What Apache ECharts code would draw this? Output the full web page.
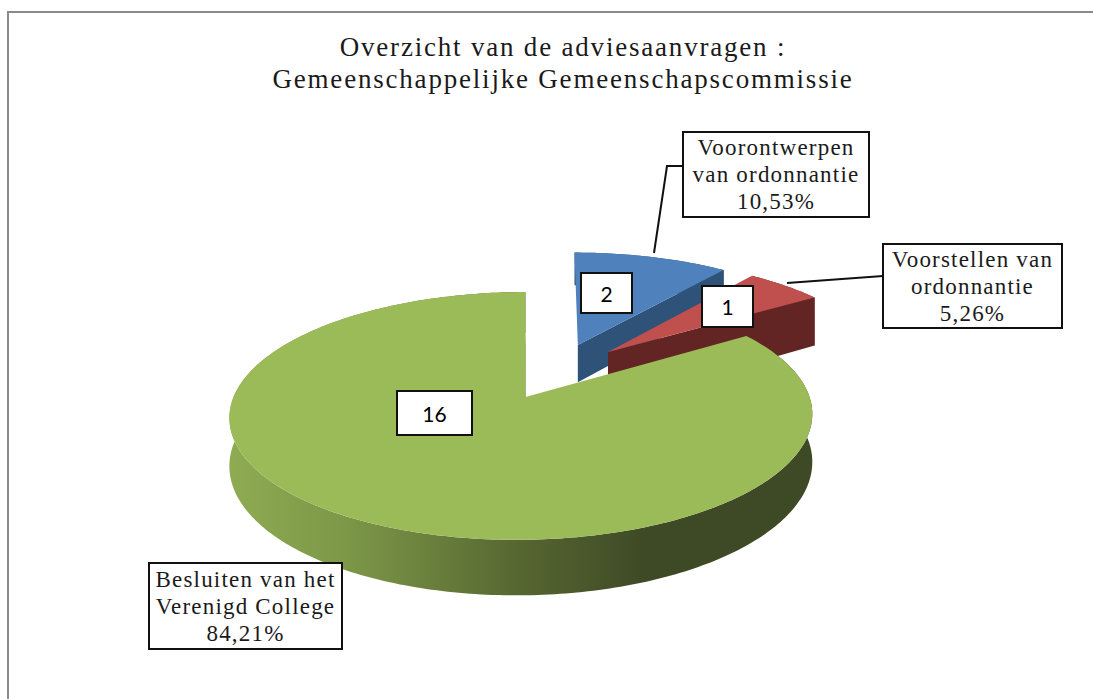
<!DOCTYPE html>
<html>
<head>
<meta charset="utf-8">
<title>Overzicht van de adviesaanvragen</title>
<script src="https://cdn.jsdelivr.net/npm/echarts@6/dist/echarts.min.js"></script>
<style>
    html, body { margin: 0; padding: 0; background: #fff; }
    #chart { width: 1093px; height: 699px; }
    /* the original serif runs wide, the installed one does not */
    #chart text[style*="Liberation"] { letter-spacing: 1.2px; }
    #chart text[style*="27px"] { letter-spacing: 1.8px; }
</style>
</head>
<body>
<div id="chart"></div>
<script>
    // data
    let chartTitle = 'Overzicht van de adviesaanvragen :\nGemeenschappelijke Gemeenschapscommissie'
    let sliceNames = ['Voorontwerpen\nvan ordonnantie', 'Voorstellen van\nordonnantie', 'Besluiten van het\nVerenigd College']
    let sliceValues = [2, 1, 16]

    // look of the slices
    let topColors = ['#4f81bd', '#c0504d', '#9bbb59']
    let wallColors = ['#2f5278', '#632523', '#5a6b34']
    let pull = [[0.19, 0.46], [0.3, 0.394], [-0.012, 0]]
    let wallDepth = [40, 55, 47]
    let apexNudge = [0, 0, 4]

    // the tilted disc, with a bit of perspective
    let view = { cx: 525, cy: 397, a: 288, b: 121, k: 0.153, skew: 4 }

    let total = sliceValues.reduce((s, v) => s + v, 0)

    function project(x, y, drop) {
        let w = 1 + view.k * y
        return [view.cx + (view.a * x + view.skew * y) / w, view.cy - (view.b * y - drop) / w]
    }

    function arcPoints(idx, start, end, drop) {
        let pts = []
        let steps = Math.max(8, Math.round((end - start) * 60))
        for (let i = 0; i <= steps; i++) {
            let t = start + (end - start) * i / steps
            pts.push(project(pull[idx][0] + Math.sin(t), pull[idx][1] + Math.cos(t), drop))
        }
        return pts
    }

    function renderSlice(params, api) {
        let idx = params.dataIndex
        let before = sliceValues.slice(0, idx).reduce((s, v) => s + v, 0)
        let start = before / total * Math.PI * 2
        let end = (before + api.value(0)) / total * Math.PI * 2

        let apexTop = project(pull[idx][0], pull[idx][1], 0)
        let apexLow = project(pull[idx][0], pull[idx][1], wallDepth[idx])
        apexTop[0] += apexNudge[idx]
        let arcTop = arcPoints(idx, start, end, 0)
        let arcLow = arcPoints(idx, start, end, wallDepth[idx])

        let wallFill = wallColors[idx]
        if (idx === 2) {
            // only the big slice has a lit rim
            wallFill = new echarts.graphic.LinearGradient(228, 0, 812, 0, [
                { offset: 0, color: '#8fab52' },
                { offset: 0.2, color: '#7d9848' },
                { offset: 0.5, color: '#566631' },
                { offset: 0.72, color: '#3e4925' },
                { offset: 1, color: '#3e4925' }
            ], true)
        }

        return {
            type: 'group',
            children: [
                {
                    type: 'polygon',
                    shape: { points: [apexTop, arcTop[arcTop.length - 1], arcLow[arcLow.length - 1], apexLow] },
                    style: { fill: wallColors[idx] }
                },
                {
                    type: 'polygon',
                    shape: { points: arcTop.concat(arcLow.slice().reverse()) },
                    style: { fill: wallFill }
                },
                {
                    type: 'polygon',
                    shape: { points: [apexTop].concat(arcTop) },
                    style: { fill: topColors[idx] }
                }
            ]
        }
    }

    function percentText(v) {
        return (v / total * 100).toFixed(2).replace('.', ',') + '%'
    }

    // boxes around the texts
    let nameBoxes = [[683, 132, 186, 85], [883, 244, 179, 84], [149, 563, 193, 86]]
    let valueBoxes = [[581, 273, 51, 40], [702, 286, 51, 41], [397, 391, 75, 44]]
    let leaders = [
        [[654, 253], [667, 166], [683, 166]],
        [[787, 283], [883, 276]]
    ]

    function boxElements(box, text, font, color) {
        return [
            {
                type: 'rect',
                z: 100,
                shape: { x: box[0], y: box[1], width: box[2], height: box[3] },
                style: { fill: '#fff', stroke: '#111', lineWidth: 2 }
            },
            {
                type: 'text',
                z: 101,
                x: box[0] + box[2] / 2,
                y: box[1] + box[3] / 2,
                style: { text: text, font: font, fill: color, align: 'center', verticalAlign: 'middle', lineHeight: 27 }
            }
        ]
    }

    let elements = [{
        type: 'polyline',
        shape: { points: [[8, 699], [8, 12], [1093, 12]] },
        style: { fill: null, stroke: '#8a8a8a', lineWidth: 2 }
    }]
    leaders.forEach(points => {
        elements.push({
            type: 'polyline',
            z: 99,
            shape: { points: points },
            style: { fill: null, stroke: '#111', lineWidth: 2 }
        })
    })
    sliceValues.forEach((v, i) => {
        elements = elements.concat(boxElements(nameBoxes[i], sliceNames[i] + '\n' + percentText(v), '23px "Liberation Serif"', '#1a1a1a'))
        elements = elements.concat(boxElements(valueBoxes[i], String(v), '21px Lato', '#000'))
    })

    let myChart = echarts.init(document.getElementById('chart'), null, { renderer: 'svg' })
    myChart.setOption({
        animation: false,
        backgroundColor: '#fff',
        title: {
            text: chartTitle,
            left: 558,
            top: 26,
            textAlign: 'center',
            textStyle: { fontFamily: 'Liberation Serif', fontWeight: 'normal', fontSize: 27, lineHeight: 32, color: '#1a1a1a' }
        },
        graphic: { elements: elements },
        series: [{
            type: 'custom',
            coordinateSystem: 'none',
            silent: true,
            data: sliceValues.map(v => [v]),
            renderItem: renderSlice
        }]
    })
</script>
</body>
</html>
